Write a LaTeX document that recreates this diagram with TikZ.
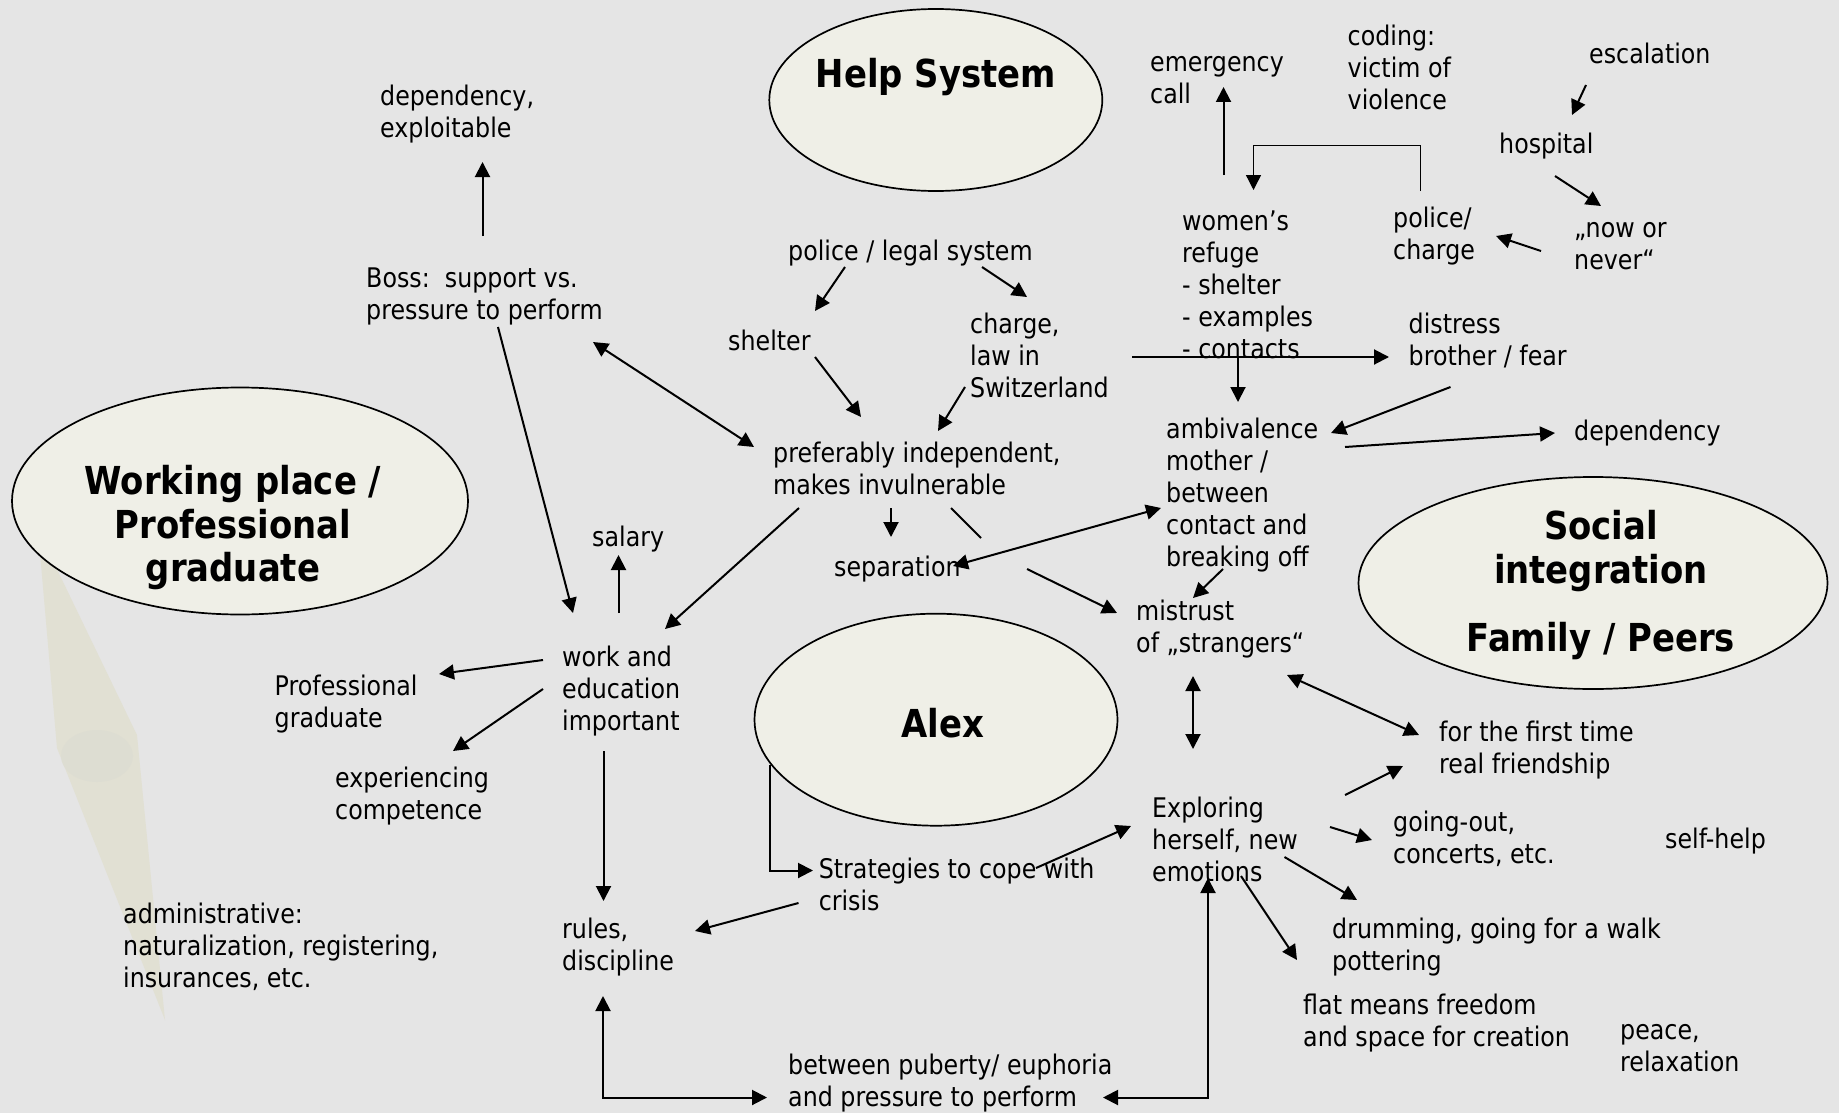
\documentclass[tikz,border=0pt]{standalone}
\usepackage{fontspec}
\setmainfont{DejaVu Sans}[FakeStretch=0.88]
\usetikzlibrary{arrows.meta,shapes.geometric}
\definecolor{bg}{HTML}{E5E5E5}
\definecolor{ellfill}{HTML}{EFEFE7}
\definecolor{needle}{HTML}{E1E0D3}
\definecolor{pivot}{HTML}{DDDDD2}
\tikzset{
 txt/.style={anchor=north west, inner sep=0pt, align=left, yshift=20pt, font=\fontsize{27}{32}\selectfont, execute at begin node=\strut},
 ttl/.style={anchor=north, inner sep=0pt, align=center, yshift=30.45pt, font=\fontsize{38.5}{43.5}\selectfont\bfseries, execute at begin node=\strut},
 bub/.style={draw, line width=1.7pt, fill=ellfill, ellipse, inner sep=0pt},
 arr/.style={-{Triangle[length=15pt,width=15pt]}, line width=2pt},
 darr/.style={{Triangle[length=15pt,width=15pt]}-{Triangle[length=15pt,width=15pt]}, line width=2pt},
 ln/.style={line width=2pt},
 thinarr/.style={-{Triangle[length=15pt,width=15pt]}, line width=1.4pt}
}
\begin{document}
\begin{tikzpicture}[x=1pt,y=-1pt]
\fill[bg] (0,0) rectangle (1839,1113);
\useasboundingbox (0,0) rectangle (1839,1113);

% faint compass needle in the background
\fill[needle] (38,530) -- (137,735) -- (165,1020) -- (57,748) -- cycle;
\fill[pivot] (97,756) ellipse [x radius=36pt, y radius=26pt];

% ellipses
\node[bub, minimum width=333pt, minimum height=182pt] (help) at (935.8,100) {};
\node[bub, minimum width=456pt, minimum height=227pt] (workel) at (240,501) {};
\node[bub, minimum width=469pt, minimum height=212pt] (socel) at (1593,583) {};
\node[bub, minimum width=363pt, minimum height=212pt] (alexel) at (936,719.7) {};

\node[ttl] (helpt) at (936,87.5) {Help System};
\node[ttl] (workt) at (233,495.5) {Working place /\\Professional\\graduate};
\node[ttl] (soct) at (1601,540.5) {Social\\integration};
\node[ttl] (famt) at (1601,651.5) {Family / Peers};
\node[ttl] (alext) at (943,737) {Alex};

% texts
\node[txt] (dep1) at (380,105) {dependency,\\exploitable};
\node[txt] (boss) at (366,288) {Boss:~~support vs.\\pressure to perform};
\node[txt] (police) at (788,258) {police / legal system};
\node[txt] (shelter) at (728,348) {shelter};
\node[txt] (charge) at (970,333) {charge,\\law in\\Switzerland};
\node[txt] (emerg) at (1150,76) {emergency\\call};
\node[txt] (coding) at (1347.5,45) {coding:\\victim of\\violence};
\node[txt] (escal) at (1589,61) {escalation};
\node[txt] (hosp) at (1499,151) {hospital};
\node[txt] (now) at (1574,242) {„now or\\never“};
\node[txt] (polch) at (1393,227) {police/\\charge};
\node[txt] (women) at (1182,231) {women’s\\refuge\\- shelter\\- examples\\- contacts};
\node[txt] (distress) at (1408.5,333) {distress\\brother / fear};
\node[txt] (ambiv) at (1166,438) {ambivalence\\mother /\\between\\contact and\\breaking off};
\node[txt] (dep2) at (1574,438) {dependency};
\node[txt] (pref) at (773,462) {preferably independent,\\makes invulnerable};
\node[txt] (salary) at (592,544) {salary};
\node[txt] (sep) at (834,574) {separation};
\node[txt] (mistrust) at (1136,620) {mistrust\\of „strangers“};
\node[txt] (work) at (562,666) {work and\\education\\important};
\node[txt] (prof) at (274.5,695) {Professional\\graduate};
\node[txt] (exper) at (335,787) {experiencing\\competence};
\node[txt] (first) at (1439,741) {for the first time\\real friendship};
\node[txt] (explor) at (1152,817) {Exploring\\herself, new\\emotions};
\node[txt] (going) at (1393,831) {going-out,\\concerts, etc.};
\node[txt] (selfhelp) at (1665,846) {self-help};
\node[txt] (strat) at (818.6,878) {Strategies to cope with\\crisis};
\node[txt] (admin) at (123,923) {administrative:\\naturalization, registering,\\insurances, etc.};
\node[txt] (rules) at (562,938) {rules,\\discipline};
\node[txt] (drum) at (1332,938) {drumming, going for a walk\\pottering};
\node[txt] (flat) at (1303,1014) {flat means freedom\\and space for creation};
\node[txt] (peace) at (1620,1044.5) {peace,\\relaxation};
\node[txt] (between) at (788,1074) {between puberty/ euphoria\\and pressure to perform};

% connector end points
\coordinate (b1s) at (482.5,236); \coordinate (b1e) at (482.5,162);
\coordinate (b2s) at (498,327); \coordinate (b2e) at (573,613);
\coordinate (b3a) at (593,342); \coordinate (b3b) at (754,447);
\coordinate (p1s) at (845,267); \coordinate (p1e) at (815,311);
\coordinate (p2s) at (982,267); \coordinate (p2e) at (1027,297);
\coordinate (s1s) at (815,357); \coordinate (s1e) at (861,417);
\coordinate (c1s) at (965,387); \coordinate (c1e) at (938,431);
\coordinate (q1s) at (891,508); \coordinate (q1e) at (891,537);
\coordinate (q2s) at (951,508); \coordinate (q2e) at (981,538);
\coordinate (q3s) at (1027,569); \coordinate (q3e) at (1117,613);
\coordinate (q4a) at (953,566); \coordinate (q4b) at (1161,508);
\coordinate (a1s) at (1223,569); \coordinate (a1e) at (1193,598);
\coordinate (q5s) at (799,508); \coordinate (q5e) at (665,629);
\coordinate (w1s) at (618.5,613); \coordinate (w1e) at (618.5,555);
\coordinate (w2s) at (543,660); \coordinate (w2e) at (439,674);
\coordinate (w3s) at (543,689); \coordinate (w3e) at (453,751);
\coordinate (w4s) at (603.5,751); \coordinate (w4e) at (603.5,901);
\coordinate (t1s) at (798.5,903); \coordinate (t1e) at (695,931);
\coordinate (x1s) at (770,765); \coordinate (x1m) at (770,870.5); \coordinate (x1e) at (813,870.5);
\coordinate (t2s) at (1036,868); \coordinate (t2e) at (1131,826);
\coordinate (r1a) at (603,996); \coordinate (r1m) at (603,1097.5); \coordinate (r1b) at (767,1097.5);
\coordinate (e1a) at (1103,1097.5); \coordinate (e1m) at (1208,1097.5); \coordinate (e1b) at (1208,878);
\coordinate (e2s) at (1284.5,857); \coordinate (e2e) at (1357,900);
\coordinate (e3s) at (1241,876); \coordinate (e3e) at (1297,960);
\coordinate (e4s) at (1330,827); \coordinate (e4e) at (1372,840);
\coordinate (e5s) at (1345,795); \coordinate (e5e) at (1403,766);
\coordinate (m1a) at (1287,675); \coordinate (m1b) at (1419,735);
\coordinate (m2a) at (1193,676); \coordinate (m2b) at (1193,749);
\coordinate (a2s) at (1345,447); \coordinate (a2e) at (1555,433);
\coordinate (d1s) at (1450.5,387); \coordinate (d1e) at (1331,433);
\coordinate (h1s) at (1132,357); \coordinate (h1e) at (1389,357);
\coordinate (h2s) at (1238,357); \coordinate (h2e) at (1238,402);
\coordinate (f1s) at (1223.5,175); \coordinate (f1e) at (1223.5,87);
\coordinate (g1s) at (1420.5,191); \coordinate (g1a) at (1420.5,145.5); \coordinate (g1b) at (1253.5,145.5); \coordinate (g1e) at (1253.5,190);
\coordinate (k1s) at (1586,85); \coordinate (k1e) at (1572,115);
\coordinate (k2s) at (1555,176); \coordinate (k2e) at (1601,206);
\coordinate (k3s) at (1541,251); \coordinate (k3e) at (1496,236);

% connectors
\draw[arr] (b1s) -- (b1e);
\draw[arr] (b2s) -- (b2e);
\draw[darr] (b3a) -- (b3b);
\draw[arr] (p1s) -- (p1e);
\draw[arr] (p2s) -- (p2e);
\draw[arr] (s1s) -- (s1e);
\draw[arr] (c1s) -- (c1e);
\draw[arr] (q1s) -- (q1e);
\draw[ln] (q2s) -- (q2e);
\draw[arr] (q3s) -- (q3e);
\draw[darr] (q4a) -- (q4b);
\draw[arr] (a1s) -- (a1e);
\draw[arr] (q5s) -- (q5e);
\draw[arr] (w1s) -- (w1e);
\draw[arr] (w2s) -- (w2e);
\draw[arr] (w3s) -- (w3e);
\draw[arr] (w4s) -- (w4e);
\draw[arr] (t1s) -- (t1e);
\draw[arr] (x1s) -- (x1m) -- (x1e);
\draw[arr] (t2s) -- (t2e);
\draw[darr] (r1a) -- (r1m) -- (r1b);
\draw[darr] (e1a) -- (e1m) -- (e1b);
\draw[arr] (e2s) -- (e2e);
\draw[arr] (e3s) -- (e3e);
\draw[arr] (e4s) -- (e4e);
\draw[arr] (e5s) -- (e5e);
\draw[darr] (m1a) -- (m1b);
\draw[darr] (m2a) -- (m2b);
\draw[arr] (a2s) -- (a2e);
\draw[arr] (d1s) -- (d1e);
\draw[arr] (h1s) -- (h1e);
\draw[arr] (h2s) -- (h2e);
\draw[arr] (f1s) -- (f1e);
\draw[thinarr] (g1s) -- (g1a) -- (g1b) -- (g1e);
\draw[arr] (k1s) -- (k1e);
\draw[arr] (k2s) -- (k2e);
\draw[arr] (k3s) -- (k3e);
\end{tikzpicture}
\end{document}
